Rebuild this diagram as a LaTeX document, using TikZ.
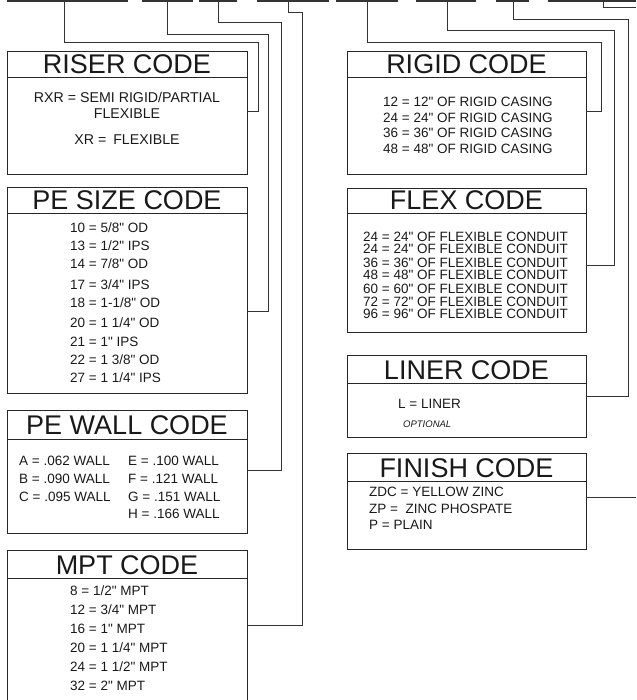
\documentclass[tikz,border=0pt]{standalone}
\usepackage{fontspec}
\setmainfont{Liberation Sans}
\newfontfamily\bodyfont{Liberation Sans}
\begin{document}
\begin{tikzpicture}[x=1pt,y=-1pt,
  box/.style={draw=black!85,line width=1.2pt,inner sep=0pt,anchor=north west},
  hdr/.style={draw=black!85,line width=1pt},
  ttl/.style={anchor=base,inner sep=0pt,text=black!90,font=\bodyfont\fontsize{27}{27}\selectfont},
  txt/.style={anchor=base west,inner sep=0pt,text=black!90,font=\bodyfont\fontsize{13.5}{15}\selectfont},
  ctxt/.style={txt,anchor=base},
  rtxt/.style={anchor=base,inner sep=0pt,text=black!90,font=\bodyfont\fontsize{14.2}{15}\selectfont},
  wire/.style={draw=black!80,line width=1pt},
  blank/.style={draw=black!80,line width=2pt}]
\useasboundingbox (0,0) rectangle (636,700);

% blanks along the top
\foreach \a/\b in {7/128,142/193,199/237,257/329,336/398,416/476,496/529,548/636}
  \draw[blank] (\a,1) -- (\b,1);
\coordinate (t1) at (64,1);
\coordinate (t2) at (167,1);
\coordinate (t3) at (218,1);
\coordinate (t4) at (288,1);
\coordinate (t5) at (367,1);
\coordinate (t6) at (447,1);
\coordinate (t7) at (513,1);
\coordinate (t8) at (603,1);
\coordinate (edgeA) at (636,8);
\coordinate (edgeB) at (636,497);

% boxes
\node[box,minimum width=240pt,minimum height=123pt] (riser) at (7,51) {};
\node[box,minimum width=240pt,minimum height=206pt] (pesize) at (7,187) {};
\node[box,minimum width=240pt,minimum height=123pt] (pewall) at (7,410) {};
\node[box,minimum width=240pt,minimum height=165pt] (mpt) at (7,550) {};
\node[box,minimum width=239pt,minimum height=123pt] (rigid) at (347,51) {};
\node[box,minimum width=239pt,minimum height=144pt] (flex) at (347,188) {};
\node[box,minimum width=239pt,minimum height=82pt] (liner) at (347,355) {};
\node[box,minimum width=239pt,minimum height=96pt] (finish) at (347,453) {};

% header lines
\draw[hdr] ([yshift=-27pt]riser.north west) -- ([yshift=-27pt]riser.north east);
\draw[hdr] ([yshift=-27pt]pesize.north west) -- ([yshift=-27pt]pesize.north east);
\draw[hdr] ([yshift=-29pt]pewall.north west) -- ([yshift=-29pt]pewall.north east);
\draw[hdr] ([yshift=-28pt]mpt.north west) -- ([yshift=-28pt]mpt.north east);
\draw[hdr] ([yshift=-27pt]rigid.north west) -- ([yshift=-27pt]rigid.north east);
\draw[hdr] ([yshift=-26pt]flex.north west) -- ([yshift=-26pt]flex.north east);
\draw[hdr] ([yshift=-28pt]liner.north west) -- ([yshift=-28pt]liner.north east);
\draw[hdr] ([yshift=-28pt]finish.north west) -- ([yshift=-28pt]finish.north east);

% connector ends on the boxes
\coordinate (e1) at (247,112);
\coordinate (e2) at (247,311);
\coordinate (e3) at (247,470);
\coordinate (e4) at (247,625);
\coordinate (e5) at (586,112);
\coordinate (e6) at (586,265);
\coordinate (e7) at (586,396);
\coordinate (e8) at (586,497);

\draw[wire] (t1) |- (258,43) |- (e1);
\draw[wire] (t2) |- (268,35) |- (e2);
\draw[wire] (t3) |- (281,23) |- (e3);
\draw[wire] (t4) |- (302,13) |- (e4);
\draw[wire] (t5) |- (601,43) |- (e5);
\draw[wire] (t6) |- (614,31) |- (e6);
\draw[wire] (t7) |- (628,20) |- (e7);
\draw[wire] (t8) |- (edgeA);
\draw[wire] (e8) -- (edgeB);

% titles
\node[ttl] (riserT) at (127,74) {RISER CODE};
\node[ttl] (pesizeT) at (127,210) {PE SIZE CODE};
\node[ttl] (pewallT) at (127,434) {PE WALL CODE};
\node[ttl] (mptT) at (127,574) {MPT CODE};
\node[ttl] (rigidT) at (466.5,74) {RIGID CODE};
\node[ttl] (flexT) at (466.5,210) {FLEX CODE};
\node[ttl] (linerT) at (466.5,379) {LINER CODE};
\node[ttl] (finishT) at (466.5,477) {FINISH CODE};

% riser
\node[rtxt] (r1) at (127,103) {RXR = SEMI RIGID/PARTIAL};
\node[rtxt] (r2) at (127,119) {FLEXIBLE};
\node[rtxt] (r3) at (127,145) {XR =\hspace{7pt}FLEXIBLE};

% pe size
\node[txt] (s1) at (70,233) {10 = 5/8" OD};
\node[txt] (s2) at (70,251) {13 = 1/2" IPS};
\node[txt] (s3) at (70,269) {14 = 7/8" OD};
\node[txt] (s4) at (70,289) {17 = 3/4" IPS};
\node[txt] (s5) at (70,307) {18 = 1-1/8" OD};
\node[txt] (s6) at (70,327) {20 = 1 1/4" OD};
\node[txt] (s7) at (70,346) {21 = 1" IPS};
\node[txt] (s8) at (70,364) {22 = 1 3/8" OD};
\node[txt] (s9) at (70,382) {27 = 1 1/4" IPS};

% pe wall
\node[txt] (w1) at (19,465) {A = .062 WALL};
\node[txt] (w2) at (19,483) {B = .090 WALL};
\node[txt] (w3) at (19,501) {C = .095 WALL};
\node[txt] (w4) at (128,465) {E = .100 WALL};
\node[txt] (w5) at (128,483) {F = .121 WALL};
\node[txt] (w6) at (128,501) {G = .151 WALL};
\node[txt] (w7) at (128,518) {H = .166 WALL};

% mpt
\node[txt] (m1) at (70,595) {8 = 1/2" MPT};
\node[txt] (m2) at (70,614) {12 = 3/4" MPT};
\node[txt] (m3) at (70,633) {16 = 1" MPT};
\node[txt] (m4) at (70,652) {20 = 1 1/4" MPT};
\node[txt] (m5) at (70,671) {24 = 1 1/2" MPT};
\node[txt] (m6) at (70,690) {32 = 2" MPT};

% rigid
\node[txt] (g1) at (383,107) {12 = 12" OF RIGID CASING};
\node[txt] (g2) at (383,123) {24 = 24" OF RIGID CASING};
\node[txt] (g3) at (383,138) {36 = 36" OF RIGID CASING};
\node[txt] (g4) at (383,154) {48 = 48" OF RIGID CASING};

% flex
\node[txt] (f1) at (363,241) {24 = 24" OF FLEXIBLE CONDUIT};
\node[txt] (f2) at (363,254) {24 = 24" OF FLEXIBLE CONDUIT};
\node[txt] (f3) at (363,267) {36 = 36" OF FLEXIBLE CONDUIT};
\node[txt] (f4) at (363,279) {48 = 48" OF FLEXIBLE CONDUIT};
\node[txt] (f5) at (363,293) {60 = 60" OF FLEXIBLE CONDUIT};
\node[txt] (f6) at (363,306) {72 = 72" OF FLEXIBLE CONDUIT};
\node[txt] (f7) at (363,318) {96 = 96" OF FLEXIBLE CONDUIT};

% liner
\node[txt] (l1) at (398,408) {L = LINER};
\node[txt,font=\bodyfont\fontsize{9.5}{10}\selectfont\itshape] (l2) at (403,427) {OPTIONAL};

% finish
\node[txt] (n1) at (369,496) {ZDC = YELLOW ZINC};
\node[txt] (n2) at (369,513) {ZP =\ \ ZINC PHOSPATE};
\node[txt] (n3) at (369,529) {P = PLAIN};
\end{tikzpicture}
\end{document}
